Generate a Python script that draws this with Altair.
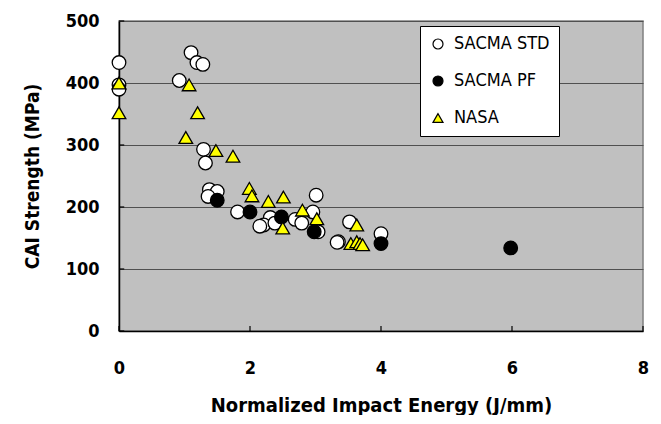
import altair as alt
import pandas as pd

series_names = ["SACMA STD", "SACMA PF", "NASA"]

std_x = [0, 0, 0, 1.10, 1.19, 1.28, 0.92, 1.29, 1.32, 1.38, 1.50, 1.36, 1.81, 2.31, 2.21, 2.15, 2.38, 2.69, 2.79, 2.96, 3.01, 3.04, 3.35, 3.33, 3.52, 4.00]
std_y = [433, 397, 390, 449, 433, 430, 404, 293, 271, 228, 225, 217, 192, 183, 171, 169, 174, 180, 174, 192, 219, 160, 144, 143, 176, 157]

pf_x = [1.50, 2.00, 2.48, 2.98, 4.00, 5.98]
pf_y = [211, 192, 184, 160, 141, 134]

nasa_x = [0, 0, 1.07, 1.20, 1.02, 1.48, 1.74, 1.99, 2.03, 2.28, 2.51, 2.50, 2.80, 3.02, 3.63, 3.54, 3.63, 3.68, 3.72]
nasa_y = [400, 352, 397, 352, 312, 291, 282, 230, 218, 209, 216, 166, 195, 181, 171, 141, 144, 141, 139]

x_ticks = [0, 2, 4, 6, 8]
y_ticks = [0, 100, 200, 300, 400, 500]

rows = []
for name, xs, ys in [("SACMA STD", std_x, std_y), ("SACMA PF", pf_x, pf_y), ("NASA", nasa_x, nasa_y)]:
    for a, b in zip(xs, ys):
        rows.append({"series": name, "x": a, "y": b, "k": len(rows)})
df = pd.DataFrame(rows)

FONT = "Liberation Sans Narrow, DejaVu Sans Condensed, Liberation Sans, Arial, sans-serif"

xs = alt.Scale(domain=[0, 8], nice=False)
ys = alt.Scale(domain=[0, 500], nice=False)

points = alt.Chart(df).mark_point(filled=True, size=185, stroke="black", strokeWidth=1.3, opacity=1).encode(
    x=alt.X("x:Q", scale=xs, axis=alt.Axis(values=x_ticks, format="d", title="Normalized Impact Energy (J/mm)",
                                           grid=False, ticks=False, labelFlush=False, labelFontSize=18,
                                           labelFontWeight="bold", labelPadding=28, titleFontSize=20,
                                           titleFontWeight="bold", titlePadding=18, domainColor="black",
                                           domainWidth=1.5, labelFont=FONT, titleFont=FONT,
                                           labelColor="black", titleColor="black")),
    y=alt.Y("y:Q", scale=ys, axis=alt.Axis(values=y_ticks, format="d", title="CAI Strength (MPa)",
                                           grid=True, gridColor="#505050", gridWidth=1.2, ticks=False,
                                           labelFlush=False, labelFontSize=18, labelFontWeight="bold",
                                           labelPadding=20, titleFontSize=19, titleFontWeight="bold",
                                           titlePadding=23, domainColor="black", domainWidth=1.5,
                                           labelFont=FONT, titleFont=FONT, labelColor="black", titleColor="black")),
    fill=alt.Fill("series:N", scale=alt.Scale(domain=series_names, range=["white", "black", "#FFFF00"]),
                  legend=alt.Legend(title=None, orient="none", legendX=301, legendY=5,
                                    labelFontSize=18, labelFont=FONT, labelColor="black",
                                    symbolSize=100, symbolStrokeColor="black", symbolStrokeWidth=1.2,
                                    rowPadding=19, padding=9, strokeColor="black", fillColor="white",
                                    labelOffset=7)),
    shape=alt.Shape("series:N", scale=alt.Scale(domain=series_names, range=["circle", "circle", "triangle-up"])),
    order=alt.Order("k:Q"),
)

xt = pd.DataFrame({"x": x_ticks, "y0": [0] * len(x_ticks), "y1": [8] * len(x_ticks)})
xtick_marks = alt.Chart(xt).mark_rule(color="black", strokeWidth=1.2).encode(
    x=alt.X("x:Q", scale=xs), y=alt.Y("y0:Q", scale=ys), y2="y1:Q")
yt = pd.DataFrame({"y": y_ticks, "x0": [0] * len(y_ticks), "x1": [0.08] * len(y_ticks)})
ytick_marks = alt.Chart(yt).mark_rule(color="black", strokeWidth=1.2).encode(
    y=alt.Y("y:Q", scale=ys), x=alt.X("x0:Q", scale=xs), x2="x1:Q")

chart = alt.layer(xtick_marks, ytick_marks, points).properties(
    width=524, height=310,
    autosize=alt.AutoSizeParams(type="none"),
    padding={"left": 111, "top": 13, "right": 10, "bottom": 84},
    background="white",
).configure_view(fill="#C0C0C0", stroke="#808080", strokeWidth=1.5)

chart.save("out.html", embed_options={"renderer": "svg", "actions": False})
